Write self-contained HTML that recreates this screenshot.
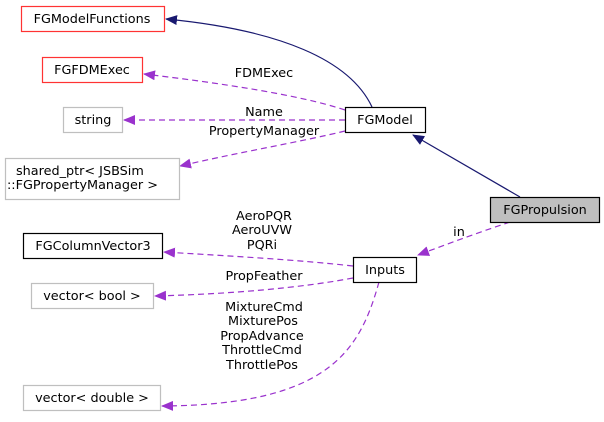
<!DOCTYPE html>
<html><head><style>html,body{margin:0;padding:0;background:#fff}</style></head><body>
<svg width="604" height="417" viewBox="0 0 604 417" xmlns="http://www.w3.org/2000/svg" font-family="DejaVu Sans, Liberation Sans, sans-serif" font-size="12.8">
<defs>
<marker id="ab" markerWidth="12" markerHeight="10" refX="11" refY="5" orient="auto" markerUnits="userSpaceOnUse"><path d="M0,0 L12,5 L0,10 z" fill="#191970"/></marker>
<marker id="ap" markerWidth="12" markerHeight="10" refX="11" refY="5" orient="auto" markerUnits="userSpaceOnUse"><path d="M0,0 L12,5 L0,10 z" fill="#9a32cd"/></marker>
</defs>
<g fill="none" stroke-width="1.2">
<path d="M372,107 C350,60 280,30 166,19" stroke="#191970" marker-end="url(#ab)"/>
<path d="M520,197 L413,135" stroke="#191970" marker-end="url(#ab)"/>
<g stroke="#9a32cd" stroke-dasharray="6,4">
<path d="M345,110 C300,95 220,83 144,74" marker-end="url(#ap)"/>
<path d="M345,120 L124,120" marker-end="url(#ap)"/>
<path d="M345,131 C300,142 240,152 180,166" marker-end="url(#ap)"/>
<path d="M510,222 C480,232 450,243 418,255" marker-end="url(#ap)"/>
<path d="M353,266 C300,260 230,256 164,252" marker-end="url(#ap)"/>
<path d="M353,278 C300,288 230,294 155,296" marker-end="url(#ap)"/>
<path d="M379,282 C360,350 330,405 162,406" marker-end="url(#ap)"/>
</g>
</g>
<g stroke-width="1.2">
<rect x="21.5" y="6.5" width="143" height="25" fill="#fff" stroke="#ff3333"/>
<rect x="42.5" y="57.5" width="100" height="25" fill="#fff" stroke="#ff3333"/>
<rect x="63.5" y="107.5" width="59" height="25" fill="#fff" stroke="#bfbfbf"/>
<rect x="5.5" y="158.5" width="174" height="41" fill="#fff" stroke="#bfbfbf"/>
<rect x="345.5" y="107.5" width="80" height="25" fill="#fff" stroke="#000"/>
<rect x="490.5" y="197.5" width="109" height="25" fill="#bfbfbf" stroke="#000"/>
<rect x="353.5" y="257.5" width="63" height="25" fill="#fff" stroke="#000"/>
<rect x="23.5" y="233.5" width="139" height="25" fill="#fff" stroke="#000"/>
<rect x="31.5" y="283.5" width="122" height="25" fill="#fff" stroke="#bfbfbf"/>
<rect x="23.5" y="385.5" width="137" height="25" fill="#fff" stroke="#bfbfbf"/>
</g>
<g fill="#000" text-anchor="middle">
<text x="92" y="23">FGModelFunctions</text>
<text x="92" y="74">FGFDMExec</text>
<text x="93" y="124">string</text>
<text x="16" y="175" text-anchor="start">shared_ptr&lt; JSBSim</text>
<text x="7" y="189" text-anchor="start">::FGPropertyManager &gt;</text>
<text x="385" y="124">FGModel</text>
<text x="545" y="214">FGPropulsion</text>
<text x="385" y="274">Inputs</text>
<text x="93" y="250">FGColumnVector3</text>
<text x="92" y="300">vector&lt; bool &gt;</text>
<text x="92" y="402">vector&lt; double &gt;</text>
<text x="264" y="77">FDMExec</text>
<text x="264" y="116">Name</text>
<text x="264" y="135">PropertyManager</text>
<text x="459" y="236">in</text>
<text x="264" y="220">AeroPQR</text>
<text x="262" y="234">AeroUVW</text>
<text x="262" y="249">PQRi</text>
<text x="264" y="280">PropFeather</text>
<text x="264" y="311">MixtureCmd</text>
<text x="263" y="325">MixturePos</text>
<text x="262" y="340">PropAdvance</text>
<text x="262" y="354">ThrottleCmd</text>
<text x="262" y="369">ThrottlePos</text>
</g>
</svg>
</body></html>
